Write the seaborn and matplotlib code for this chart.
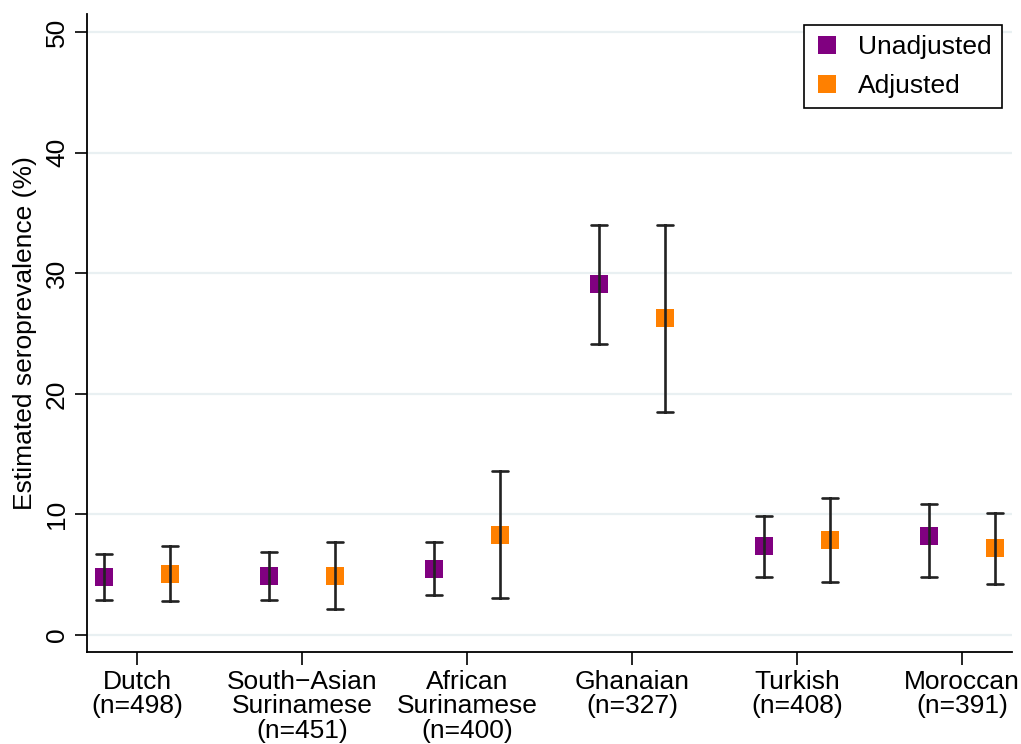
import matplotlib
matplotlib.use('Agg')
import matplotlib.pyplot as plt
import seaborn as sns
import pandas as pd
from matplotlib.lines import Line2D

# data
groups = ["Dutch\n(n=498)", "South\u2212Asian\nSurinamese\n(n=451)",
          "African\nSurinamese\n(n=400)", "Ghanaian\n(n=327)",
          "Turkish\n(n=408)", "Moroccan\n(n=391)"]
unadj_est = [4.8, 4.9, 5.5, 29.1, 7.4, 8.2]
unadj_lo = [2.9, 2.9, 3.3, 24.1, 4.8, 4.8]
unadj_hi = [6.7, 6.9, 7.7, 34.0, 9.9, 10.9]
adj_est = [5.1, 4.9, 8.3, 26.3, 7.9, 7.2]
adj_lo = [2.8, 2.2, 3.1, 18.5, 4.4, 4.2]
adj_hi = [7.4, 7.7, 13.6, 34.0, 11.4, 10.1]

# long table: lo / est / hi rows per group, median gives est, min-max gives CI
rows = []
for label, est, lo, hi in [("Unadjusted", unadj_est, unadj_lo, unadj_hi),
                           ("Adjusted", adj_est, adj_lo, adj_hi)]:
    for g, e, l, h in zip(groups, est, lo, hi):
        for v in (l, e, h):
            rows.append({"group": g, "model": label, "value": v})
df = pd.DataFrame(rows)

sns.set_theme(style="white")
plt.rcParams['font.family'] = ['Liberation Sans', 'DejaVu Sans']
plt.rcParams.update({
    'text.color': 'black',
    'axes.labelcolor': 'black',
    'xtick.color': 'black',
    'ytick.color': 'black',
})

colors = {"Unadjusted": "#800080", "Adjusted": "#ff8000"}
FS = 19

fig = plt.figure(figsize=(10.21, 7.44), dpi=100)
ax = fig.add_axes([0.0852, 0.1237, 0.906, 0.8575])

for y in range(0, 51, 10):
    ax.axhline(y, color="#e9f0f2", lw=1.6, zorder=0)

sns.pointplot(data=df, x="group", y="value", hue="model", order=groups,
              hue_order=["Unadjusted", "Adjusted"], palette=colors,
              estimator="median", errorbar=lambda v: (v.min(), v.max()),
              dodge=0.4, linestyle="none", markers="s", markersize=12.5,
              markeredgewidth=0, capsize=0.095,
              err_kws={"color": "#222222", "linewidth": 1.9},
              legend=False, ax=ax)

ax.set_ylim(-1.4, 51.5)
ax.set_xlim(-0.303, 5.303)
ax.set_yticks(range(0, 51, 10))
ax.set_xlabel("")
ax.set_ylabel("Estimated seroprevalence (%)", fontsize=FS, labelpad=6)
ax.tick_params(axis="both", which="major", direction="out", length=9,
               width=1.2, color="black", labelsize=FS, pad=4,
               bottom=True, left=True)
for lab in ax.get_yticklabels():
    lab.set_rotation(90)
    lab.set_va("center")
for lab in ax.get_xticklabels():
    lab.set_multialignment("center")
    lab.set_linespacing(1.02)

for s in ["top", "right"]:
    ax.spines[s].set_visible(False)
for s in ["left", "bottom"]:
    ax.spines[s].set_color("black")
    ax.spines[s].set_linewidth(1.3)

handles = [Line2D([], [], marker="s", linestyle="none", markersize=12.5,
                  markeredgewidth=0, color=colors[k]) for k in colors]
leg = ax.legend(handles, list(colors), loc="upper right",
                bbox_to_anchor=(0.989, 0.983), fontsize=FS, frameon=True,
                fancybox=False, framealpha=1, edgecolor="black",
                handlelength=1.0, handletextpad=0.65, borderpad=0.4,
                labelspacing=0.55, borderaxespad=0)
leg.get_frame().set_linewidth(1.2)

fig.savefig("out.png", dpi=100, facecolor="white")
